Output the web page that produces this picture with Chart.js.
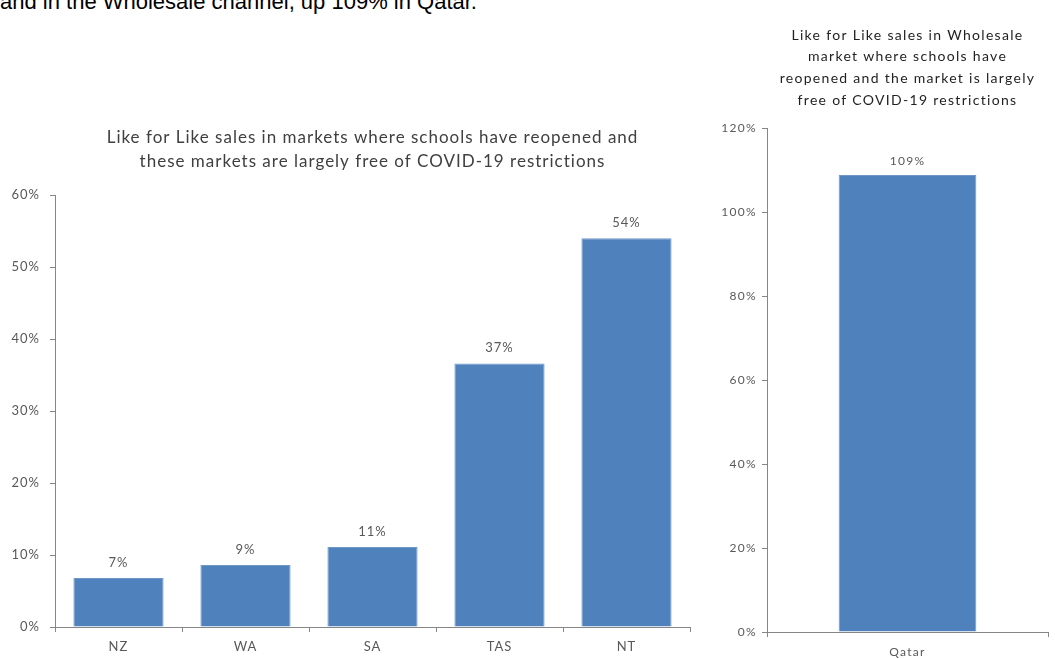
<!DOCTYPE html>
<html>
<head>
<meta charset="utf-8">
<script src="https://cdn.jsdelivr.net/npm/chart.js@4.4.0/dist/chart.umd.min.js"></script>
<style>
  html,body{margin:0;padding:0;background:#fff;}
  body{width:1055px;height:659px;position:relative;overflow:hidden;}
  #headline{position:absolute;left:0;top:-9px;font:22px "Liberation Sans",Arial,sans-serif;color:#000;line-height:22px;white-space:nowrap;}
  .box{position:absolute;top:0;height:659px;}
</style>
</head>
<body>
<div id="headline">and in the Wholesale channel, up 109% in Qatar.</div>
<div class="box" style="left:0;width:700px"><canvas id="chartMarkets"></canvas></div>
<div class="box" style="left:700px;width:355px"><canvas id="chartQatar"></canvas></div>
<script>
// --- data ---
const marketLabels = ['NZ','WA','SA','TAS','NT'];
const marketValues = [6.8, 8.6, 11.1, 36.6, 54.0];
const marketTicks = [0,10,20,30,40,50,60];

const wholesaleLabels = ['Qatar'];
const wholesaleValues = [108.8];
const wholesaleTicks = [0,20,40,60,80,100,120];

const BLUE = '#4f81bd';
const AXIS = '#868686';
const TXT = '#595959';
const FONT = 'Lato, "Open Sans", sans-serif';

// the source has loosely spaced text, so widen it on the canvas
const spacing = {
  id:'spacing',
  beforeUpdate(chart, args, o){ chart.ctx.letterSpacing = o.px+'px'; },
  beforeDraw(chart, args, o){ chart.ctx.letterSpacing = o.px+'px'; }
};

// title centred over the plot area (not the whole canvas)
const plotTitle = {
  id:'plotTitle',
  afterDraw(chart, args, o){
    const ctx = chart.ctx, a = chart.chartArea;
    ctx.save();
    ctx.fillStyle = o.color;
    ctx.font = o.size+'px ' + FONT;
    ctx.textAlign = 'center';
    ctx.textBaseline = 'middle';
    o.lines.forEach((t,i)=> ctx.fillText(t, (a.left+a.right)/2, o.y + i*o.step));
    ctx.restore();
  }
};

// value labels above bars
const barLabels = {
  id:'barLabels',
  afterDatasetsDraw(chart, args, o){
    const ctx = chart.ctx;
    const meta = chart.getDatasetMeta(0);
    ctx.save();
    ctx.fillStyle = TXT;
    ctx.font = o.size+'px ' + FONT;
    ctx.textAlign = 'center';
    ctx.textBaseline = 'bottom';
    meta.data.forEach((bar,i)=>{
      const v = chart.data.datasets[0].data[i];
      ctx.fillText(Math.round(v)+'%', bar.x, bar.y - o.gap);
    });
    ctx.restore();
  }
};

function makeChart(id, labels, values, ticks, opts){
  return new Chart(document.getElementById(id),{
    type:'bar',
    data:{labels, datasets:[{data:values, backgroundColor:BLUE, borderColor:'#6f97c8', borderWidth:1,
      categoryPercentage:1, barPercentage:opts.barPct}]},
    plugins:[spacing, plotTitle, barLabels],
    options:{
      responsive:true, maintainAspectRatio:false, animation:false,
      layout:{padding:{left:0,right:opts.padRight,top:opts.padTop,bottom:0}},
      plugins:{
        legend:{display:false}, tooltip:{enabled:false}, title:{display:false},
        spacing:{px:opts.spacing},
        barLabels:{size:opts.labelSize, gap:opts.labelGap},
        plotTitle:{lines:opts.title, color:opts.titleColor, size:opts.titleSize, y:opts.titleY, step:opts.titleStep}
      },
      scales:{
        x:{
          grid:{display:true, drawOnChartArea:false, offset:true, color:AXIS, tickLength:5},
          border:{color:AXIS},
          ticks:{color:TXT, font:{family:FONT, size:opts.tickSize}, padding:opts.xPad},
          afterFit(s){ s.height = opts.xHeight; }
        },
        y:{
          min:0, max:ticks[ticks.length-1],
          afterBuildTicks(s){ s.ticks = ticks.map(v=>({value:v})); },
          grid:{display:true, drawOnChartArea:false, color:AXIS, tickLength:5},
          border:{color:AXIS},
          ticks:{color:TXT, font:{family:FONT, size:opts.tickSize}, padding:opts.yPad, callback:v=>v+'%'},
          afterFit(s){ s.width = opts.yWidth; }
        }
      }
    }
  });
}

makeChart('chartMarkets', marketLabels, marketValues, marketTicks, {
  barPct:0.71, padRight:10, padTop:195, xHeight:32, yWidth:55, spacing:1,
  tickSize:13, xPad:7, yPad:10, labelSize:13, labelGap:9,
  title:['Like for Like sales in markets where schools have reopened and','these markets are largely free of COVID-19 restrictions'],
  titleColor:'#404040', titleSize:17, titleY:138, titleStep:24
});

makeChart('chartQatar', wholesaleLabels, wholesaleValues, wholesaleTicks, {
  barPct:0.49, padRight:7, padTop:128, xHeight:27, yWidth:67, spacing:1.3,
  tickSize:12, xPad:8, yPad:5, labelSize:12, labelGap:8,
  title:['Like for Like sales in Wholesale','market where schools have','reopened and the market is largely','free of COVID-19 restrictions'],
  titleColor:'#1f1f1f', titleSize:14, titleY:35, titleStep:21.7
});
</script>
</body>
</html>
